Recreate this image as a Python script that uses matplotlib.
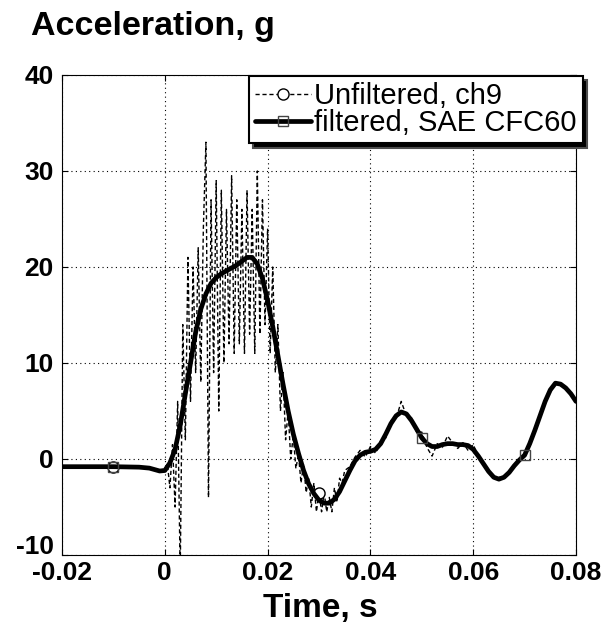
import numpy as np
import matplotlib
matplotlib.use("Agg")
import matplotlib.pyplot as plt
import matplotlib.transforms as mtransforms

plt.rcParams['font.family'] = ['Liberation Sans', 'DejaVu Sans']

# ---------------- data ----------------
# filtered, SAE CFC60
t_filt = [-0.020, -0.015, -0.010, -0.005, -0.003, -0.002, -0.001,
          0.000, 0.001, 0.002, 0.003, 0.004, 0.005, 0.006, 0.007, 0.008, 0.009,
          0.010, 0.011, 0.012, 0.013, 0.014, 0.015, 0.016, 0.017, 0.018, 0.019,
          0.020, 0.021, 0.022, 0.023, 0.024, 0.025, 0.026, 0.027, 0.028, 0.029,
          0.030, 0.031, 0.032, 0.033, 0.034, 0.035, 0.036, 0.037, 0.038, 0.039,
          0.040, 0.041, 0.042, 0.043, 0.044, 0.045, 0.046, 0.047, 0.048, 0.049,
          0.050, 0.051, 0.052, 0.053, 0.054, 0.055, 0.056, 0.057, 0.058, 0.059,
          0.060, 0.061, 0.062, 0.063, 0.064, 0.065, 0.066, 0.067, 0.068, 0.069,
          0.070, 0.071, 0.072, 0.073, 0.074, 0.075, 0.076, 0.077, 0.078, 0.079,
          0.080]
a_filt = [-0.8, -0.8, -0.8, -0.85, -0.95, -1.1, -1.25,
          -1.2, -0.4, 1.0, 3.5, 6.8, 10.0, 13.2, 15.6, 17.2, 18.3,
          18.9, 19.3, 19.6, 19.9, 20.2, 20.6, 21.0, 21.0, 20.3, 18.8,
          16.5, 13.8, 10.8, 7.8, 5.0, 2.6, 0.6, -1.2, -2.6, -3.6,
          -4.3, -4.6, -4.6, -4.2, -3.4, -2.3, -1.2, -0.2, 0.4, 0.7,
          0.8, 1.0, 1.6, 2.6, 3.7, 4.5, 4.9, 4.7, 4.0, 3.1,
          2.2, 1.6, 1.3, 1.3, 1.5, 1.6, 1.6, 1.5, 1.5, 1.4,
          1.0, 0.3, -0.5, -1.3, -1.9, -2.1, -1.9, -1.4, -0.7, -0.1,
          0.4, 1.6, 3.0, 4.5, 6.0, 7.2, 7.9, 7.8, 7.4, 6.8,
          6.0]

# unfiltered, ch9
t_unf_pre = [-0.020, -0.015, -0.010, -0.005, -0.002, -0.001]
a_unf_pre = [-0.8, -0.8, -0.8, -0.85, -1.1, -1.2]
a_unf_imp = [-1.0, -0.5, -3.0, 1.5, -5.0, 6.0, -12.0, 14.0, 2.0, 21.0,
             6.0, 20.0, 9.0, 22.0, 8.0, 24.0, 33.0, -4.0, 27.0, 9.0,
             29.0, 5.0, 28.0, 10.0, 26.0, 12.0, 29.5, 11.0, 27.0, 12.0,
             26.0, 11.0, 28.0, 13.0, 26.0, 11.0, 30.0, 13.0, 27.0, 14.0,
             24.0, 11.0, 20.0, 9.0, 14.0, 5.0, 9.0, 2.0, 5.0, 0.0,
             2.5, -1.0, 0.5, -2.5, -0.5, -3.5, -2.0, -5.0, -2.5, -5.5,
             -3.5, -5.5, -3.5, -5.5, -4.0, -5.5, -3.0, -4.5, -2.0, -2.5,
             -1.2]
t_unf_imp = list(np.round(np.arange(len(a_unf_imp)) * 0.0005, 4))
a_unf_mid = [-0.8, 0.2, 0.9, 0.2, 1.3, 0.6, 1.9, 2.2, 4.0, 4.2,
             6.0, 4.5, 4.3, 2.8, 2.8, 1.2, 0.3, 1.6, 1.2, 2.4,
             1.7, 1.1, 1.7, 0.9, 1.5, 0.3, -0.5]
t_unf_mid = list(np.round(0.036 + np.arange(len(a_unf_mid)) * 0.001, 4))
t_unf_post = [0.064, 0.066, 0.068, 0.070, 0.072, 0.074, 0.076, 0.078, 0.080]
a_unf_post = [-1.9, -1.9, -0.7, 0.4, 3.0, 6.0, 7.9, 7.4, 6.0]

t_unf = np.array(t_unf_pre + t_unf_imp + t_unf_mid + t_unf_post)
a_unf = np.array(a_unf_pre + a_unf_imp + a_unf_mid + a_unf_post)

unf_marker_times = [-0.010, 0.030]
filt_marker_times = [-0.010, 0.050, 0.070]

x_ticks = [-0.02, 0, 0.02, 0.04, 0.06, 0.08]
x_ticklabels = ['-0.02', '0', '0.02', '0.04', '0.06', '0.08']
y_ticks = [-10, 0, 10, 20, 30, 40]
y_ticklabels = ['-10', '0', '10', '20', '30', '40']

# ---------------- figure ----------------
W, H = 607, 641
fig = plt.figure(figsize=(W / 100, H / 100), dpi=100)
ax = fig.add_axes([62 / W, 1 - 555 / H, (576 - 62) / W, (555 - 75) / H])

t_f = np.array(t_filt)
unf_idx = [int(np.argmin(np.abs(t_unf - m))) for m in unf_marker_times]
filt_idx = [int(np.argmin(np.abs(t_f - m))) for m in filt_marker_times]

ax.plot(t_unf, a_unf, color='black', lw=1.0, ls=(0, (3.0, 2.0)),
        marker='o', markevery=unf_idx, ms=8, mfc='white', mec='black', mew=1.0,
        label='Unfiltered, ch9', zorder=2)
ax.plot(t_f, a_filt, color='black', lw=3.4, solid_capstyle='round',
        marker='s', markevery=filt_idx, ms=7, mfc='none', mec='#444444', mew=1.0,
        label='filtered, SAE CFC60', zorder=3)

ax.set_xlim(-0.02, 0.08)
ax.set_ylim(-10, 40)
ax.set_xticks(x_ticks)
ax.set_xticklabels(x_ticklabels)
ax.set_yticks(y_ticks)
ax.set_yticklabels(y_ticklabels)
ax.tick_params(direction='in', length=4, width=0.8, top=True, right=True,
               labelsize=19)
ax.tick_params(axis='x', pad=4)
ax.tick_params(axis='y', pad=6)
for lab in ax.get_xticklabels() + ax.get_yticklabels():
    lab.set_fontweight('bold')
# lift the bottom y label slightly, as in the reference, to clear "-0.02"
ylabs = ax.get_yticklabels()
shift = mtransforms.ScaledTranslation(0, 10 / 100, fig.dpi_scale_trans)
ylabs[0].set_transform(ylabs[0].get_transform() + shift)

ax.grid(True, color='black', ls=(0, (1, 3)), lw=0.8)
for s in ax.spines.values():
    s.set_linewidth(0.8)

leg = ax.legend(loc='upper right', bbox_to_anchor=(583 / W, 1 - 76 / H),
                bbox_transform=fig.transFigure, fontsize=21, frameon=True,
                fancybox=False, handlelength=1.9, handletextpad=0.12,
                labelspacing=-0.05, borderpad=0.22, borderaxespad=0.0,
                shadow={'facecolor': 'black', 'alpha': 1.0, 'ox': 3, 'oy': -3})
leg.get_frame().set_edgecolor('black')
leg.get_frame().set_linewidth(1.5)
leg.set_zorder(5)

fig.text(31 / W, 1 - 35 / H, 'Acceleration, g', fontsize=24.5, fontweight='bold',
         ha='left', va='baseline')
fig.text(320 / W, 1 - 608 / H, 'Time, s', fontsize=24, fontweight='bold',
         ha='center', va='center')

fig.savefig('out.png', dpi=100)
